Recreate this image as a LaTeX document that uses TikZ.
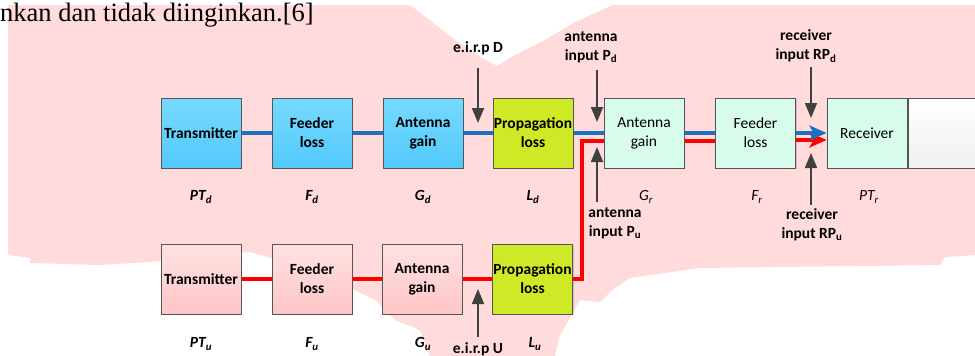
\documentclass[tikz,border=0pt]{standalone}
\usepackage{fontspec}
\setmainfont{Carlito}
\newfontfamily\introserif{Liberation Serif}
\usetikzlibrary{arrows.meta,positioning,shadows}

\definecolor{bgpink}{RGB}{255,219,219}
\definecolor{downblue}{RGB}{30,112,192}
\definecolor{upred}{RGB}{255,0,0}
\definecolor{boxedge}{RGB}{85,85,85}
\definecolor{probegray}{RGB}{64,64,64}
\definecolor{txtop}{RGB}{118,218,255}
\definecolor{txbot}{RGB}{82,200,250}
\definecolor{uptop}{RGB}{255,226,226}
\definecolor{upbot}{RGB}{255,198,198}
\definecolor{proplime}{RGB}{206,234,38}
\definecolor{rxmint}{RGB}{216,252,236}
\newcommand{\dgsize}{\fontsize{15.5}{19}\selectfont}

\begin{document}
\begin{tikzpicture}[x=1pt, y=-1pt,
  blk/.style={
    draw=boxedge, line width=1pt,
    minimum width=80pt, minimum height=70pt,
    inner sep=0pt, align=center, font=\dgsize\bfseries,
    drop shadow={shadow xshift=1.2pt, shadow yshift=-1.2pt,
      fill=black, opacity=0.15}
  },
  dnblk/.style={blk, top color=txtop, bottom color=txbot},
  upblk/.style={blk, top color=uptop, bottom color=upbot},
  propblk/.style={blk, fill=proplime},
  rxblk/.style={blk, fill=rxmint, font=\dgsize},
  sym/.style={font=\dgsize\bfseries\itshape},
  rxsym/.style={font=\dgsize\itshape},
  note/.style={font=\dgsize\bfseries, align=center, inner sep=0pt},
  dnlink/.style={draw=downblue, line width=4pt},
  uplink/.style={draw=upred, line width=4pt},
  probe/.style={draw=probegray, line width=1.8pt,
    -{Triangle[length=15pt, width=12pt]}}]

\useasboundingbox (0,0) rectangle (975,356);
\clip (0,0) rectangle (975,356);

% Pink overlay behind the figure
\fill[bgpink] (8,5) -- (410,5) -- (432,22) -- (458,42) -- (482,58)
  -- (497,66) -- (515,55) -- (545,40) -- (575,22) -- (613,5)
  -- (975,5) -- (975,255) -- (945,257) -- (940,265) -- (700,268)
  -- (630,278) -- (612,290) -- (600,302) -- (580,300) -- (570,318)
  -- (560,335) -- (555,356) -- (430,356) -- (420,330) -- (395,320)
  -- (375,300) -- (355,290) -- (330,275) -- (250,252) -- (150,262)
  -- (100,265) -- (30,263) -- (30,258) -- (8,255) -- cycle;

\node[anchor=base west, inner sep=0pt,
  font=\introserif\fontsize{26.5}{30}\selectfont] (intro) at (0,21)
  {nkan dan tidak diinginkan.[6]};

% Downlink chain (top row)
\node[dnblk] (txd) at (201,133) {Transmitter};
\node[dnblk] (fdd) at (312,133) {Feeder\\loss};
\node[dnblk] (gnd) at (423,133) {Antenna\\gain};
\node[propblk] (lsd) at (533,133) {Propagation\\loss};

% Receiving side
\node[rxblk] (gnr) at (644,133) {Antenna\\gain};
\node[rxblk] (fdr) at (755.5,133) {Feeder\\loss};
\node[rxblk] (rx) at (867,133) {Receiver};
\node[blk, top color=white, bottom color=black!6,
  minimum width=100pt, anchor=west] (rxtail) at (rx.east) {};

% Uplink chain (bottom row)
\node[upblk] (txu) at (201,279) {Transmitter};
\node[upblk] (fdu) at (312,279) {Feeder\\loss};
\node[upblk] (gnu) at (422,279) {Antenna\\gain};
\node[propblk] (lsu) at (532.5,279) {Propagation\\loss};

% Symbols under the boxes
\node[sym] (ptd) at (201,197) {PT\textsubscript{d}};
\node[sym] (fd) at (312,197) {F\textsubscript{d}};
\node[sym] (gd) at (423,197) {G\textsubscript{d}};
\node[sym] (ld) at (533,197) {L\textsubscript{d}};
\node[rxsym] (gr) at (646,197) {G\textsubscript{r}};
\node[rxsym] (fr) at (757,197) {F\textsubscript{r}};
\node[rxsym] (ptr) at (869,197) {PT\textsubscript{r}};
\node[sym] (ptu) at (201,344) {PT\textsubscript{u}};
\node[sym] (fu) at (312,344) {F\textsubscript{u}};
\node[sym] (gu) at (423,344) {G\textsubscript{u}};
\node[sym] (lu) at (535,344) {L\textsubscript{u}};

% Blue downlink path
\draw[dnlink] (txd) -- (fdd);
\draw[dnlink] (fdd) -- (gnd);
\draw[dnlink] (gnd) -- (lsd);
\draw[dnlink] (lsd) -- (gnr);
\draw[dnlink] (gnr) -- (fdr);

% Red uplink path
\draw[uplink] (txu) -- (fdu);
\draw[uplink] (fdu) -- (gnu);
\draw[uplink] (gnu) -- (lsu);
\draw[uplink] (lsu.east) -| ([xshift=-22pt, yshift=-8pt]gnr.west)
  -- ([yshift=-8pt]gnr.west);
\draw[uplink] ([yshift=-8pt]gnr.east) -- ([yshift=-8pt]fdr.west);

% Into the receiver
\draw[uplink, -{Stealth[length=17pt, width=15pt, inset=4pt]}]
  ([yshift=-7pt]fdr.east) -- ([yshift=-7pt]rx.west);
\draw[dnlink, -{Stealth[length=17pt, width=15pt, inset=4pt]}]
  (fdr.east) -- (rx.west);

% Measurement points
\node[note] (eirpd) at (478,48) {e.i.r.p D};
\node[note] (antpd) at (591,47) {antenna\\input P\textsubscript{d}};
\node[note] (antpu) at (615,223) {antenna\\input P\textsubscript{u}};
\node[note] (rxpd) at (806,46) {receiver\\input RP\textsubscript{d}};
\node[note] (rxpu) at (812,225) {receiver\\input RP\textsubscript{u}};
\node[note] (eirpu) at (478,349) {e.i.r.p U};

\coordinate (eirpdtip) at (478,123);
\coordinate (antpdtip) at (597,122);
\coordinate (antputip) at (597,147);
\coordinate (rxpdtip) at (811,118);
\coordinate (rxputip) at (811,153);
\coordinate (eirputip) at (478,289);

\draw[probe] ([yshift=-13pt]eirpd.south) -- (eirpdtip);
\draw[probe] ([yshift=-7pt]antpd.south -| antpdtip) -- (antpdtip);
\draw[probe] ([yshift=5pt]antpu.north -| antputip) -- (antputip);
\draw[probe] ([yshift=-4pt]rxpd.south -| rxpdtip) -- (rxpdtip);
\draw[probe] ([yshift=4pt]rxpu.north -| rxputip) -- (rxputip);
\draw[probe] ([yshift=5pt]eirpu.north) -- (eirputip);

\end{tikzpicture}
\end{document}
